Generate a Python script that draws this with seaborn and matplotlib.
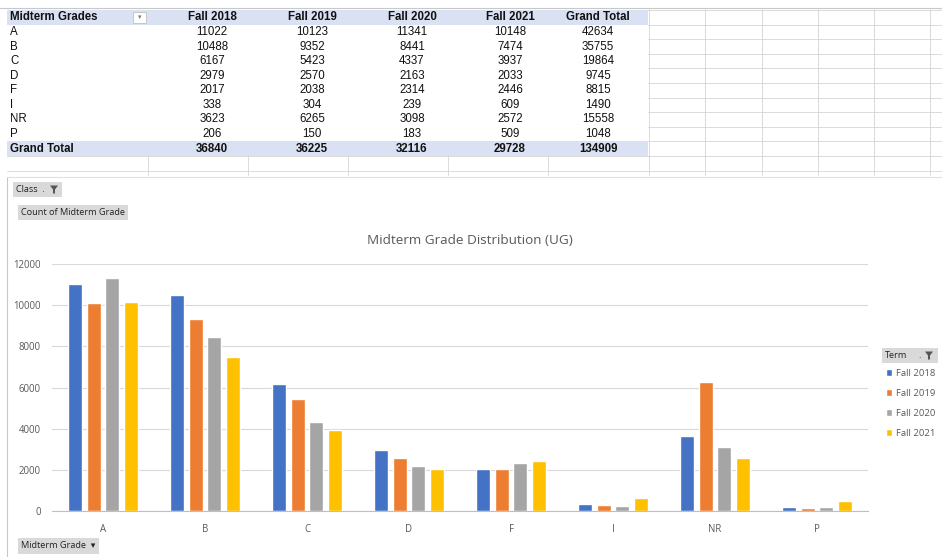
import numpy as np
import pandas as pd
import matplotlib
matplotlib.use('Agg')
import matplotlib.pyplot as plt
import seaborn as sns

# data
grades = ['A', 'B', 'C', 'D', 'F', 'I', 'NR', 'P']
terms = ['Fall 2018', 'Fall 2019', 'Fall 2020', 'Fall 2021']
fall_2018 = [11022, 10488, 6167, 2979, 2017, 338, 3623, 206]
fall_2019 = [10123, 9352, 5423, 2570, 2038, 304, 6265, 150]
fall_2020 = [11341, 8441, 4337, 2163, 2314, 239, 3098, 183]
fall_2021 = [10148, 7474, 3937, 2033, 2446, 609, 2572, 509]
totals_row = [36840, 36225, 32116, 29728, 134909]
yticks = [0, 2000, 4000, 6000, 8000, 10000, 12000]

colors = ['#4472C4', '#ED7D31', '#A5A5A5', '#FFC000']

series = [fall_2018, fall_2019, fall_2020, fall_2021]
df = pd.DataFrame({
    'grade': grades * 4,
    'term': [t for t in terms for _ in grades],
    'count': [v for s in series for v in s],
})
grand_total = [sum(s[i] for s in series) for i in range(len(grades))]

sns.set_style('white')
plt.rcParams['font.family'] = ['Open Sans', 'DejaVu Sans']

W, H = 942, 557
fig = plt.figure(figsize=(W / 100, H / 100), dpi=100)

# background layer in pixel coords for the spreadsheet part
bg = fig.add_axes([0, 0, 1, 1])
bg.set_xlim(0, W)
bg.set_ylim(H, 0)
bg.axis('off')

row_h = 14.6
top = 10
n_rows = len(grades) + 2
grid_c = '#D4D4D4'

# header / total bands
bg.add_patch(plt.Rectangle((7, top), 641, row_h, color='#D9E1F2', lw=0))
bg.add_patch(plt.Rectangle((7, top + row_h * (n_rows - 1)), 641, row_h, color='#D9E1F2', lw=0))
bg.plot([0, W], [top - 2, top - 2], color='#C8C8C8', lw=0.8)

# right side sheet grid
for i in range(n_rows + 2):
    y = top + row_h * i
    bg.plot([648, W], [y, y], color=grid_c, lw=0.6)
for x in [649, 705, 762, 818, 874, 930]:
    bg.plot([x, x], [top - 2, 175], color=grid_c, lw=0.6)
# empty rows under the table
for i in [n_rows, n_rows + 1]:
    y = top + row_h * i
    bg.plot([7, 648], [y, y], color=grid_c, lw=0.6)
for x in [148, 248, 348, 448, 548]:
    bg.plot([x, x], [top + row_h * n_rows, 175], color=grid_c, lw=0.6)

col_x = [212, 312, 412, 510, 598]
tf = dict(family=['Liberation Sans', 'DejaVu Sans'], fontsize=8.3, color='#111111', va='center')
bg.text(10, top + row_h / 2, 'Midterm Grades', fontweight='bold', **tf)
bg.add_patch(plt.Rectangle((133, top + 2), 13, row_h - 4, facecolor='white', edgecolor='#C0C0C0', lw=0.6))
bg.text(139.5, top + row_h / 2, '▾', ha='center', fontsize=5, color='#777777', va='center')
for x, t in zip(col_x, terms + ['Grand Total']):
    bg.text(x, top + row_h / 2, t, ha='center', fontweight='bold', **tf)
for i, g in enumerate(grades):
    y = top + row_h * (i + 1) + row_h / 2
    bg.text(10, y, g, **tf)
    vals = [s[i] for s in series] + [grand_total[i]]
    for x, v in zip(col_x, vals):
        bg.text(x, y, str(v), ha='center', **tf)
y = top + row_h * (n_rows - 1) + row_h / 2
bg.text(10, y, 'Grand Total', fontweight='bold', **tf)
for x, v in zip(col_x, totals_row):
    bg.text(x, y, str(v), ha='center', fontweight='bold', **tf)

# chart frame
bg.plot([7, 7], [177, H], color='#C8C8C8', lw=0.8)
bg.plot([7, W], [177, 177], color='#E0E0E0', lw=0.8)


def funnel(x, y):
    bg.fill([x - 4, x + 4, x + 1, x + 1, x - 1, x - 1],
            [y - 4, y - 4, y, y + 4, y + 4, y], color='#555555', lw=0)


# field buttons
btn = dict(fontsize=6.6, color='#222222', va='center')
bg.add_patch(plt.Rectangle((13, 182), 49, 15, color='#D9D9D9', lw=0))
bg.text(16, 189.5, 'Class  .', **btn)
funnel(54, 189.5)
bg.text(21, 212.5, 'Count of Midterm Grade', bbox=dict(boxstyle='square,pad=0.35', fc='#D9D9D9', ec='none'), **btn)
bg.text(21, 546, 'Midterm Grade  ▾', bbox=dict(boxstyle='square,pad=0.35', fc='#D9D9D9', ec='none'), **btn)
bg.add_patch(plt.Rectangle((882, 348), 56, 15, color='#D9D9D9', lw=0))
bg.text(885, 355.5, 'Term', **btn)
bg.text(918, 355.5, '.', **btn)
funnel(929, 355.5)

bg.text(470, 240, 'Midterm Grade Distribution (UG)', ha='center', va='center', fontsize=9.7, color='#595959')

# the chart
ax = fig.add_axes([52 / W, 1 - 511 / H, 816 / W, (511 - 264) / H])
sns.barplot(data=df, x='grade', y='count', hue='term', palette=colors,
            width=0.725, gap=0.22, ax=ax, saturation=1, errorbar=None)
ax.set_ylim(0, 12000)
ax.set_yticks(yticks)
ax.set_xlim(-0.5, len(grades) - 0.5)
ax.grid(axis='y', color='#D9D9D9', lw=0.8)
ax.set_axisbelow(True)
for s in ['top', 'right', 'left']:
    ax.spines[s].set_visible(False)
ax.spines['bottom'].set_color('#BFBFBF')
ax.tick_params(axis='both', length=0, labelsize=6.9, labelcolor='#595959')
ax.tick_params(axis='x', pad=9)
ax.tick_params(axis='y', pad=8)
ax.set_xlabel('')
ax.set_ylabel('')
handles, labels = ax.get_legend_handles_labels()
ax.get_legend().remove()
fig.legend(handles, labels, loc='upper left', bbox_to_anchor=(881 / W, 1 - 364 / H),
           frameon=False, fontsize=6.8, labelcolor='#595959', handlelength=0.7,
           handleheight=0.7, handletextpad=0.35, labelspacing=1.17, borderpad=0)

fig.savefig('out.png', dpi=100)
